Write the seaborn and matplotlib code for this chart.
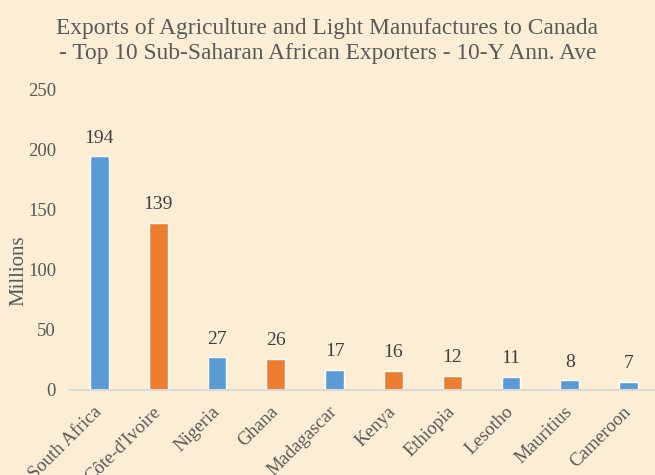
import matplotlib
matplotlib.use("Agg")
import matplotlib.pyplot as plt
import seaborn as sns
import pandas as pd

countries = ["South Africa", "Côte-d'Ivoire", "Nigeria", "Ghana", "Madagascar",
             "Kenya", "Ethiopia", "Lesotho", "Mauritius", "Cameroon"]
values = [194, 139, 27, 26, 17, 16, 12, 11, 8, 7]
bar_colors = ["#5B9BD5", "#ED7D31", "#5B9BD5", "#ED7D31", "#5B9BD5",
              "#ED7D31", "#ED7D31", "#5B9BD5", "#5B9BD5", "#5B9BD5"]
yticks = [0, 50, 100, 150, 200, 250]
title = "Exports of Agriculture and Light Manufactures to Canada\n- Top 10 Sub-Saharan African Exporters - 10-Y Ann. Ave"

sns.set_style("white")
plt.rcParams['font.family'] = ['Liberation Serif', 'DejaVu Serif']

bg = "#FBEED5"
txt = "#595959"

df = pd.DataFrame({"country": countries, "value": values})

fig = plt.figure(figsize=(6.55, 4.75), dpi=100, facecolor=bg)
ax = fig.add_axes([70/655, 1-390/475, 588/655, 301/475])
ax.set_facecolor(bg)

sns.barplot(data=df, x="country", y="value", hue="country",
            palette=dict(zip(countries, bar_colors)), width=0.32,
            legend=False, ax=ax, saturation=1)

ax.set_xlim(-0.5, len(countries) - 0.5)
ax.set_ylim(0, 250)
ax.set_yticks(yticks)
ax.set_yticklabels([str(t) for t in yticks], fontsize=13.5, color=txt)
ax.tick_params(axis='both', length=0)
ax.tick_params(axis='y', pad=10)
ax.set_xticks(range(len(countries)))
ax.set_xticklabels(countries, rotation=45, ha='right', va='center',
                   rotation_mode='anchor', fontsize=13.5, color=txt)
ax.tick_params(axis='x', pad=14)
ax.set_xlabel("")
ax.set_ylabel("Millions", fontsize=15, color=txt)
ax.yaxis.set_label_coords(-0.07, 0.395)

for s in ["top", "right", "left"]:
    ax.spines[s].set_visible(False)
ax.spines["bottom"].set_color("#D9D9D9")
ax.spines["bottom"].set_linewidth(1.5)

for i, v in enumerate(values):
    ax.annotate(str(v), (i, v), xytext=(0, 7), textcoords="offset points",
                ha='center', va='bottom', fontsize=14, color="#404040")

fig.text(0.5, 1 - 41/475, title, ha='center', va='center', fontsize=16.8,
         color=txt, linespacing=1.22)

fig.savefig("out.png", dpi=100, facecolor=bg)
